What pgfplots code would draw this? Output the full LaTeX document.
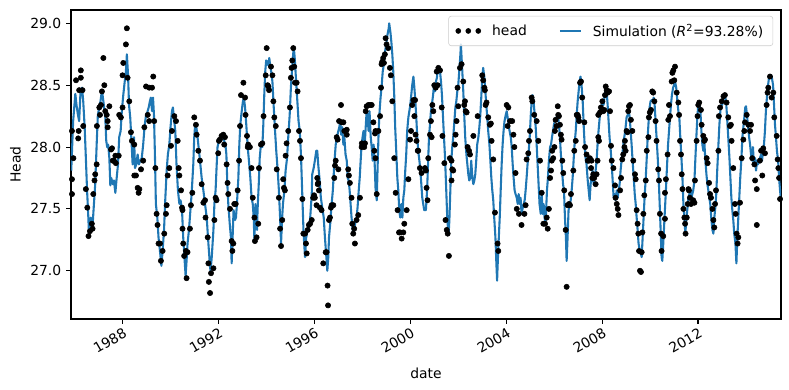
\documentclass[border=0pt]{standalone}
\usepackage{fontspec}
\setmainfont{DejaVu Sans}
\usepackage{pgfplots}
\pgfplotsset{compat=1.18}
\definecolor{mplblue}{HTML}{1F77B4}
\begin{document}
\begin{tikzpicture}
\useasboundingbox (-51.12pt,-51.12pt) rectangle (516.96pt,229.68pt);
\begin{axis}[
  scale only axis, width=511.2pt, height=222.48pt,
  at={(0,0)}, anchor=south west,
  xmin=1985.85, xmax=2015.46, ymin=26.61, ymax=29.108,
  xtick={1988,1992,1996,2000,2004,2008,2012},
  xticklabels={1988,1992,1996,2000,2004,2008,2012},
  ytick={27,27.5,28,28.5,29},
  yticklabel style={/pgf/number format/.cd, fixed, fixed zerofill, precision=1},
  /pgf/number format/assume math mode=true,
  tick align=outside, major tick length=3.5pt,
  xtick pos=lower, ytick pos=left,
  xticklabel style={rotate=30, anchor=north east, inner sep=1pt, yshift=-1pt},
  axis line style={line width=0.8pt}, tick style={line width=0.8pt, black},
  xlabel={date}, ylabel={Head},
  xlabel style={yshift=-5pt},
  legend style={at={(0.989,0.981)}, anchor=north east, legend columns=2,
    draw=black!20, rounded corners=2pt, fill=white, fill opacity=0.8, text opacity=1,
    inner ysep=3.5pt, inner xsep=5pt,
    /tikz/every odd column/.append style={column sep=6pt},
    /tikz/every even column/.append style={column sep=21pt}},
  legend cell align=left,
]
\addplot[only marks, mark=*, mark size=1.9pt, black,
  legend image code/.code={\fill[black, fill opacity=1] (0pt,0pt) circle (1.8pt); \fill[black, fill opacity=1] (7.2pt,0pt) circle (1.8pt); \fill[black, fill opacity=1] (14.4pt,0pt) circle (1.8pt);}]
coordinates {
(1985.89,28.13) (1985.95,27.91) (1985.89,27.74) (1985.89,27.62) (1986.06,28.54) (1986.17,28.13) (1986.15,28.07) (1986.26,28.62) (1986.26,28.56) (1986.19,28.46) (1986.33,28.46) (1986.36,28.17) (1986.47,27.66) (1986.53,27.51) (1986.58,27.28) (1986.64,27.32) (1986.72,27.38) (1986.75,27.34) (1986.78,27.62) (1986.83,27.73) (1986.86,27.78) (1986.92,27.86) (1986.93,28.17) (1987.03,28.32) (1987.06,28.26) (1987.10,28.34) (1987.14,28.45) (1987.20,28.72) (1987.24,28.50) (1987.28,28.29) (1987.34,28.26) (1987.38,28.21) (1987.38,28.16) (1987.45,28.33) (1987.52,27.98) (1987.56,27.99) (1987.59,27.89) (1987.64,27.89) (1987.72,27.87) (1987.70,27.93) (1987.84,27.93) (1987.86,28.26) (1987.93,28.24) (1988.00,28.32) (1988.00,28.58) (1988.03,28.68) (1988.14,28.83) (1988.18,28.96) (1988.21,28.56) (1988.28,28.37) (1988.35,28.12) (1988.39,28.05) (1988.49,28.02) (1988.49,27.77) (1988.56,27.77) (1988.63,27.67) (1988.67,27.63) (1988.70,27.66) (1988.77,27.82) (1988.86,27.89) (1988.91,28.16) (1988.98,28.49) (1989.05,28.26) (1989.11,28.21) (1989.11,28.48) (1989.23,28.48) (1989.28,28.57) (1989.32,28.21) (1989.37,27.83) (1989.42,27.46) (1989.46,27.37) (1989.50,27.22) (1989.56,27.22) (1989.60,27.08) (1989.67,27.16) (1989.74,27.30) (1989.81,27.46) (1989.84,27.53) (1989.88,27.77) (1989.95,27.83) (1990.02,28.01) (1990.06,28.13) (1990.16,28.25) (1990.23,28.21) (1990.30,28.05) (1990.34,27.83) (1990.37,27.77) (1990.44,27.65) (1990.48,27.51) (1990.50,27.49) (1990.50,27.34) (1990.53,27.22) (1990.57,27.12)
(1990.64,27.16) (1990.67,26.94) (1990.71,27.15) (1990.81,27.34) (1990.85,27.53) (1990.91,27.63) (1990.99,28.24) (1991.06,28.18) (1991.09,28.10) (1991.16,27.97) (1991.23,27.89) (1991.30,27.70) (1991.37,27.55) (1991.44,27.57) (1991.46,27.43) (1991.55,27.27) (1991.58,27.06) (1991.60,26.91) (1991.65,26.82) (1991.69,26.98) (1991.79,27.02) (1991.83,27.41) (1991.88,27.59) (1991.92,27.57) (1991.99,27.95) (1992.02,28.05) (1992.06,28.06) (1992.13,28.09) (1992.20,28.10) (1992.24,28.02) (1992.27,28.08) (1992.34,27.86) (1992.38,27.71) (1992.41,27.62) (1992.48,27.50) (1992.55,27.24) (1992.58,27.16) (1992.62,27.22) (1992.66,27.54) (1992.72,27.54) (1992.80,27.65) (1992.86,27.89) (1992.90,28.17) (1992.94,28.42) (1993.04,28.52) (1993.11,28.40) (1993.13,28.26) (1993.19,28.09) (1993.22,28.00) (1993.24,28.02) (1993.31,28.00) (1993.38,27.83) (1993.43,27.59) (1993.50,27.43) (1993.52,27.24) (1993.59,27.27) (1993.66,27.38) (1993.69,27.83) (1993.77,28.02) (1993.83,28.03) (1993.88,28.25) (1993.97,28.58) (1994.01,28.80) (1994.05,28.50) (1994.08,28.49) (1994.11,28.46) (1994.19,28.65) (1994.25,28.58) (1994.29,28.37) (1994.33,28.24) (1994.39,28.17) (1994.43,27.82) (1994.52,27.59) (1994.57,27.34) (1994.61,27.20) (1994.66,27.41) (1994.70,27.74) (1994.73,27.67) (1994.77,27.65) (1994.80,27.93) (1994.84,28.03) (1994.91,28.13) (1994.98,28.32) (1995.02,28.56) (1995.05,28.64) (1995.08,28.70) (1995.12,28.80) (1995.16,28.65) (1995.19,28.52) (1995.26,28.52) (1995.30,28.45) (1995.36,28.13) (1995.40,28.05) (1995.44,27.91) (1995.50,27.58) (1995.54,27.30)
(1995.61,27.30) (1995.65,27.22) (1995.68,27.14) (1995.72,27.33) (1995.77,27.37) (1995.82,27.38) (1995.89,27.41) (1995.95,27.59) (1995.99,27.61) (1996.02,27.59) (1996.09,27.53) (1996.12,27.75) (1996.14,27.70) (1996.16,27.71) (1996.19,27.65) (1996.23,27.51) (1996.30,27.49) (1996.37,27.06) (1996.47,27.15) (1996.51,27.15) (1996.55,26.88) (1996.57,26.72) (1996.61,27.41) (1996.65,27.43) (1996.69,27.51) (1996.72,27.53) (1996.79,27.53) (1996.83,27.75) (1996.86,27.85) (1996.89,27.89) (1997.00,27.82) (1996.93,28.08) (1996.97,28.06) (1997.03,28.21) (1997.11,28.34) (1997.14,28.20) (1997.21,28.20) (1997.25,28.13) (1997.35,28.14) (1997.35,28.10) (1997.41,27.82) (1997.44,27.77) (1997.48,27.71) (1997.55,27.59) (1997.58,27.38) (1997.62,27.30) (1997.66,27.34) (1997.69,27.22) (1997.76,27.41) (1997.83,27.45) (1997.90,27.59) (1997.97,28.00) (1997.98,28.03) (1998.08,28.00) (1998.11,28.03) (1998.14,28.29) (1998.18,28.33) (1998.25,28.34) (1998.32,28.34) (1998.39,28.34) (1998.46,28.20) (1998.53,28.11) (1998.55,28.13) (1998.50,27.97) (1998.55,27.91) (1998.60,27.62) (1998.67,28.13) (1998.74,28.25) (1998.78,28.48) (1998.80,28.67) (1998.83,28.69) (1998.87,28.72) (1998.90,28.68) (1998.94,28.75) (1998.97,28.88) (1999.01,28.83) (1999.08,28.80) (1999.15,28.64) (1999.19,28.58) (1999.25,28.37) (1999.33,27.91) (1999.39,27.63) (1999.47,27.49) (1999.53,27.31) (1999.57,27.31) (1999.64,27.26) (1999.71,27.31) (1999.75,27.38) (1999.85,27.49) (1999.92,27.74) (1999.99,28.06) (2000.03,28.13) (2000.08,28.34) (2000.13,28.38) (2000.17,28.25) (2000.20,28.38) (2000.22,28.10) (2000.26,28.05) (2000.31,27.97) (2000.33,27.97) (2000.40,27.83) (2000.47,27.79)
(2000.61,27.83) (2000.65,27.81) (2000.68,27.67) (2000.72,27.57) (2000.75,27.91) (2000.82,28.10) (2000.86,28.21) (2000.89,28.08) (2000.92,28.34) (2000.96,28.29) (2001.00,28.50) (2001.06,28.48) (2001.10,28.61) (2001.14,28.50) (2001.17,28.64) (2001.24,28.62) (2001.31,28.32) (2001.34,28.09) (2001.42,27.87) (2001.47,27.41) (2001.52,27.33) (2001.56,27.30) (2001.61,27.12) (2001.65,27.91) (2001.72,27.89) (2001.75,27.82) (2001.72,27.73) (2001.79,27.81) (2001.86,28.02) (2001.89,28.10) (2001.93,28.21) (2001.97,28.48) (2002.00,28.33) (2002.07,28.64) (2002.14,28.67) (2002.21,28.53) (2002.25,28.34) (2002.28,28.37) (2002.31,28.29) (2002.35,28.28) (2002.39,28.00) (2002.45,27.97) (2002.49,27.94) (2002.63,28.09) (2002.81,28.25) (2003.00,28.58) (2003.04,28.54) (2003.09,28.48) (2003.11,28.46) (2003.14,28.34) (2003.18,28.36) (2003.25,28.24) (2003.32,28.18) (2003.36,28.19) (2003.39,28.05) (2003.46,27.90) (2003.53,27.47) (2003.64,27.22) (2003.67,27.16) (2004.02,28.34) (2004.09,28.32) (2004.06,28.17) (2004.16,28.21) (2004.25,28.21) (2004.30,28.10) (2004.34,28.00) (2004.39,27.79) (2004.44,27.50) (2004.53,27.46) (2004.64,27.37) (2004.76,27.46) (2004.81,27.53) (2004.85,27.90) (2004.92,27.95) (2004.95,28.05) (2004.99,28.13) (2005.06,28.40) (2005.09,28.37) (2005.17,28.26) (2005.27,28.21) (2005.34,28.05) (2005.41,27.89) (2005.48,27.63) (2005.55,27.38)
(2005.62,27.38) (2005.69,27.43) (2005.73,27.34) (2005.78,27.50) (2005.83,27.75) (2005.87,27.81) (2005.90,27.89) (2005.92,27.97) (2005.96,27.91) (2006.01,28.00) (2006.03,28.13) (2006.06,28.22) (2006.10,28.17) (2006.15,28.33) (2006.17,28.26) (2006.20,28.25) (2006.24,28.18) (2006.28,28.10) (2006.31,28.06) (2006.34,27.89) (2006.38,27.79) (2006.42,27.65) (2006.48,27.33) (2006.52,26.87) (2006.56,27.53) (2006.62,27.54) (2006.66,27.53) (2006.70,27.62) (2006.80,27.81) (2006.84,27.97) (2006.90,28.05) (2006.94,28.26) (2006.98,28.26) (2007.01,28.24) (2007.04,28.21) (2007.08,28.52) (2007.12,28.53) (2007.17,28.40) (2007.26,28.20) (2007.29,28.00) (2007.35,27.94) (2007.40,27.89) (2007.45,27.89) (2007.49,27.91) (2007.54,27.83) (2007.56,27.89) (2007.59,27.75) (2007.63,27.78) (2007.67,27.75) (2007.73,27.70) (2007.77,27.78) (2007.81,27.89) (2007.84,28.08) (2007.87,28.05) (2007.84,28.26) (2007.91,28.28) (2007.95,28.32) (2008.01,28.37) (2008.05,28.29) (2008.09,28.30) (2008.12,28.42) (2008.15,28.49) (2008.19,28.46) (2008.23,28.44) (2008.29,28.45) (2008.33,28.29) (2008.37,28.01) (2008.40,27.89) (2008.47,27.83) (2008.54,27.69) (2008.56,27.59) (2008.61,27.54) (2008.65,27.50) (2008.68,27.45) (2008.75,27.65) (2008.79,27.75) (2008.84,27.90) (2008.88,27.94) (2008.93,28.00) (2008.95,28.05) (2008.98,27.97) (2009.02,28.13) (2009.06,28.12) (2009.09,28.29) (2009.12,28.33) (2009.16,28.34) (2009.20,28.22) (2009.26,28.13) (2009.30,27.89) (2009.37,27.78) (2009.40,27.74) (2009.44,27.49) (2009.48,27.38) (2009.51,27.30) (2009.54,27.16) (2009.58,27.00) (2009.62,26.99) (2009.65,27.15) (2009.68,27.31) (2009.72,27.46) (2009.76,27.61) (2009.82,27.73) (2009.86,27.97) (2009.93,28.08) (2009.95,28.24) (2009.99,28.28) (2010.04,28.30) (2010.09,28.45) (2010.13,28.44) (2010.18,28.37) (2010.23,28.21) (2010.27,28.05) (2010.34,27.82) (2010.37,27.73) (2010.41,27.46) (2010.46,27.30) (2010.48,27.16) (2010.55,27.28)
(2010.62,27.63) (2010.62,27.42) (2010.66,27.74) (2010.73,27.94) (2010.76,28.22) (2010.83,28.25) (2010.79,28.34) (2010.90,28.53) (2010.93,28.60) (2010.97,28.62) (2011.04,28.65) (2011.01,28.54) (2011.11,28.44) (2011.18,28.36) (2011.21,28.26) (2011.25,28.05) (2011.29,27.94) (2011.32,27.78) (2011.35,27.66) (2011.39,27.50) (2011.43,27.43) (2011.46,27.38) (2011.48,27.30) (2011.53,27.43) (2011.57,27.54) (2011.60,27.66) (2011.62,27.65) (2011.66,27.59) (2011.71,27.54) (2011.80,27.57) (2011.85,27.55) (2011.87,27.73) (2011.94,28.05) (2011.98,28.25) (2012.01,28.34) (2012.05,28.36) (2012.12,28.30) (2012.15,28.18) (2012.22,28.09) (2012.26,28.05) (2012.29,28.06) (2012.36,27.91) (2012.40,27.87) (2012.46,27.71) (2012.50,27.62) (2012.54,27.59) (2012.60,27.50) (2012.64,27.41) (2012.68,27.35) (2012.71,27.54) (2012.75,27.65) (2012.85,27.97) (2012.87,28.25) (2012.92,28.32) (2012.99,28.37) (2013.06,28.41) (2013.12,28.42) (2013.19,28.36) (2013.26,28.24) (2013.33,28.17) (2013.37,28.18) (2013.40,28.05) (2013.47,27.83) (2013.54,27.54) (2013.57,27.46) (2013.61,27.30) (2013.65,27.22) (2013.68,27.27) (2013.75,27.55) (2013.82,27.91) (2013.89,28.06) (2013.93,28.13) (2013.96,28.20) (2014.03,28.26) (2014.10,28.18) (2014.17,28.13) (2014.21,28.18) (2014.26,27.91) (2014.35,27.86) (2014.38,27.73) (2014.45,27.66) (2014.45,27.37) (2014.58,27.89) (2014.63,27.97) (2014.68,27.77) (2014.72,27.99) (2014.79,27.95) (2014.86,28.34) (2014.90,28.44) (2014.93,28.48) (2015.00,28.57) (2015.07,28.40) (2015.14,28.44) (2015.18,28.24) (2015.28,28.09) (2015.32,27.90) (2015.35,27.83) (2015.38,27.75) (2015.42,27.58)
};
\addlegendentry{head}
\addplot[mplblue, line width=1.5pt, line join=round,
  legend image code/.code={\draw[mplblue, line width=1.5pt] (0pt,0pt) -- (15pt,0pt);}] coordinates {
(1985.86,27.81) (1985.94,28.21) (1986.03,28.43) (1986.08,28.34) (1986.14,28.26) (1986.19,28.21) (1986.25,28.46) (1986.31,28.48) (1986.36,28.37) (1986.42,28.16) (1986.47,27.91) (1986.52,27.65) (1986.56,27.49) (1986.60,27.30) (1986.64,27.41) (1986.68,27.43) (1986.74,27.33) (1986.79,27.49) (1986.86,27.70) (1986.92,28.02) (1986.97,28.26) (1987.03,28.32) (1987.08,28.37) (1987.14,28.46) (1987.18,28.40) (1987.22,28.34) (1987.28,28.24) (1987.32,28.05) (1987.36,28.00) (1987.40,28.02) (1987.45,27.91) (1987.49,27.69) (1987.53,27.75) (1987.59,27.70) (1987.64,27.73) (1987.70,27.63) (1987.75,27.74) (1987.81,27.86) (1987.86,28.08) (1987.92,28.13) (1987.97,28.29) (1988.03,28.42) (1988.09,28.53) (1988.14,28.61) (1988.18,28.75) (1988.23,28.58) (1988.27,28.34) (1988.32,28.24) (1988.38,28.02) (1988.42,27.86) (1988.48,28.08) (1988.52,27.83) (1988.57,27.86) (1988.63,27.94) (1988.68,27.86) (1988.74,27.89) (1988.80,27.91) (1988.86,28.02) (1988.92,28.17) (1988.98,28.26) (1989.03,28.28) (1989.09,28.32) (1989.14,28.37) (1989.18,28.40) (1989.23,28.29) (1989.27,28.40) (1989.31,28.26) (1989.35,27.94) (1989.39,27.54) (1989.45,27.43) (1989.50,27.27) (1989.56,27.16) (1989.62,27.04) (1989.67,27.16) (1989.73,27.33) (1989.78,27.57) (1989.84,27.81) (1989.89,27.94) (1989.95,28.02) (1990.00,28.16) (1990.06,28.29) (1990.10,28.32) (1990.14,28.24) (1990.20,28.13) (1990.25,27.86) (1990.31,27.65) (1990.37,27.54) (1990.42,27.57) (1990.48,27.49) (1990.53,27.27) (1990.59,27.08) (1990.63,26.96) (1990.67,27.08)
(1990.71,27.22) (1990.77,27.33) (1990.83,27.49) (1990.88,27.62) (1990.95,27.86) (1990.99,28.08) (1991.02,28.16) (1991.06,28.18) (1991.10,28.13) (1991.16,28.02) (1991.23,27.89) (1991.30,27.75) (1991.37,27.65) (1991.44,27.54) (1991.51,27.43) (1991.58,27.22) (1991.65,27.03) (1991.67,27.00) (1991.72,27.11) (1991.79,27.33) (1991.83,27.54) (1991.88,27.65) (1991.92,27.83) (1991.96,28.00) (1992.02,28.05) (1992.08,28.06) (1992.13,28.09) (1992.19,28.08) (1992.24,28.05) (1992.29,28.02) (1992.33,27.94) (1992.37,27.70) (1992.41,27.54) (1992.47,27.38) (1992.52,27.27) (1992.55,27.06) (1992.59,27.27) (1992.63,27.49) (1992.69,27.41) (1992.73,27.43) (1992.77,27.54) (1992.83,27.75) (1992.87,28.02) (1992.91,28.18) (1992.97,28.29) (1993.02,28.37) (1993.06,28.40) (1993.11,28.32) (1993.16,28.18) (1993.22,28.00) (1993.27,27.89) (1993.33,27.75) (1993.38,27.59) (1993.43,27.54) (1993.47,27.43) (1993.50,27.24) (1993.54,27.54) (1993.58,27.41) (1993.61,27.33) (1993.63,27.49) (1993.68,27.70) (1993.72,27.91) (1993.77,28.02) (1993.83,28.00) (1993.87,28.18) (1993.91,28.42) (1993.95,28.61) (1993.99,28.70) (1994.04,28.69) (1994.08,28.66) (1994.12,28.72) (1994.16,28.65) (1994.20,28.61) (1994.25,28.53) (1994.30,28.34) (1994.36,28.13) (1994.41,27.97) (1994.47,27.81) (1994.52,27.65) (1994.57,27.43) (1994.61,27.22) (1994.65,27.41) (1994.69,27.54) (1994.75,27.65) (1994.80,27.81) (1994.86,27.91) (1994.91,28.08) (1994.97,28.26) (1995.02,28.48) (1995.08,28.66) (1995.14,28.81) (1995.18,28.72) (1995.23,28.56) (1995.29,28.37) (1995.34,28.21) (1995.39,28.13) (1995.44,27.94) (1995.50,27.59) (1995.55,27.30) (1995.61,27.11) (1995.66,27.27)
(1995.72,27.33) (1995.77,27.38) (1995.82,27.41) (1995.89,27.62) (1995.91,27.78) (1995.97,27.83) (1996.02,27.89) (1996.08,27.97) (1996.12,27.97) (1996.16,27.86) (1996.22,27.73) (1996.27,27.59) (1996.33,27.51) (1996.39,27.43) (1996.44,27.27) (1996.50,27.11) (1996.54,27.00) (1996.58,27.11) (1996.61,27.27) (1996.66,27.38) (1996.72,27.54) (1996.77,27.65) (1996.83,27.86) (1996.89,28.02) (1996.94,28.08) (1997.00,28.13) (1997.04,28.16) (1997.08,28.21) (1997.12,28.10) (1997.16,28.16) (1997.21,28.02) (1997.25,28.08) (1997.30,27.94) (1997.35,27.89) (1997.39,27.75) (1997.43,27.73) (1997.47,27.65) (1997.51,27.54) (1997.55,27.43) (1997.60,27.33) (1997.64,27.30) (1997.68,27.35) (1997.72,27.41) (1997.76,27.43) (1997.80,27.51) (1997.85,27.65) (1997.89,27.75) (1997.93,27.89) (1997.97,28.02) (1998.01,28.08) (1998.05,28.13) (1998.10,28.02) (1998.14,28.16) (1998.18,28.29) (1998.22,28.24) (1998.26,28.13) (1998.30,28.29) (1998.35,28.08) (1998.39,28.00) (1998.43,27.89) (1998.47,28.02) (1998.51,27.89) (1998.55,27.67) (1998.60,27.57) (1998.64,27.86) (1998.68,28.13) (1998.72,28.29) (1998.76,28.40) (1998.80,28.48) (1998.85,28.61) (1998.89,28.66) (1998.93,28.75) (1998.97,28.80) (1999.01,28.85) (1999.05,28.91) (1999.10,28.96) (1999.12,29.00) (1999.17,28.93) (1999.21,28.85) (1999.25,28.75) (1999.29,28.61) (1999.33,28.42) (1999.37,28.16) (1999.42,27.94) (1999.46,27.75) (1999.50,27.65) (1999.54,27.49) (1999.58,27.43) (1999.63,27.54) (1999.67,27.43) (1999.71,27.59) (1999.75,27.65) (1999.79,27.81) (1999.83,27.94) (1999.87,28.13) (1999.92,28.24) (1999.96,28.29) (2000.00,28.34) (2000.04,28.42) (2000.08,28.50) (2000.13,28.57) (2000.17,28.48) (2000.21,28.37) (2000.25,28.24) (2000.29,28.08) (2000.33,27.97) (2000.38,27.89) (2000.42,27.81) (2000.46,27.70) (2000.50,27.59) (2000.54,27.54) (2000.58,27.49)
(2000.65,27.49) (2000.70,27.65) (2000.74,27.86) (2000.78,28.08) (2000.82,28.18) (2000.86,28.29) (2000.90,28.34) (2000.95,28.42) (2000.99,28.50) (2001.03,28.45) (2001.07,28.53) (2001.11,28.56) (2001.15,28.64) (2001.20,28.65) (2001.24,28.61) (2001.28,28.53) (2001.32,28.42) (2001.36,28.26) (2001.40,28.10) (2001.45,27.91) (2001.49,27.70) (2001.52,27.54) (2001.54,27.43) (2001.57,27.35) (2001.60,27.30) (2001.63,27.41) (2001.67,27.65) (2001.71,27.89) (2001.75,28.00) (2001.79,28.08) (2001.84,28.21) (2001.88,28.32) (2001.92,28.37) (2001.96,28.45) (2002.00,28.50) (2002.04,28.61) (2002.09,28.75) (2002.11,28.83) (2002.14,28.72) (2002.17,28.61) (2002.21,28.45) (2002.25,28.26) (2002.29,28.08) (2002.34,27.94) (2002.38,27.86) (2002.42,27.78) (2002.46,27.73) (2002.50,27.75) (2002.54,27.89) (2002.59,27.75) (2002.63,27.70) (2002.67,27.73) (2002.71,27.78) (2002.75,27.89) (2002.79,28.02) (2002.84,28.08) (2002.88,28.16) (2002.92,28.26) (2002.96,28.40) (2003.00,28.56) (2003.04,28.64) (2003.09,28.56) (2003.13,28.45) (2003.17,28.34) (2003.21,28.24) (2003.25,28.13) (2003.30,28.02) (2003.34,27.89) (2003.38,27.75) (2003.42,27.65) (2003.46,27.57) (2003.50,27.43) (2003.55,27.27) (2003.59,27.06) (2003.62,26.92) (2003.64,27.03) (2003.68,27.22) (2003.73,27.43) (2003.77,27.65) (2003.81,27.86) (2003.85,28.02) (2003.89,28.13) (2003.93,28.21) (2003.98,28.26) (2004.02,28.29) (2004.06,28.24) (2004.10,28.18) (2004.14,28.13) (2004.19,28.08) (2004.23,28.00) (2004.27,27.86) (2004.31,27.75) (2004.35,27.65) (2004.39,27.62) (2004.44,27.59) (2004.48,27.54) (2004.52,27.62) (2004.56,27.54) (2004.60,27.59) (2004.64,27.46) (2004.69,27.51) (2004.73,27.54) (2004.77,27.57) (2004.81,27.65) (2004.85,27.75) (2004.89,27.86) (2004.94,27.97) (2004.98,28.08) (2005.02,28.24) (2005.06,28.37) (2005.10,28.42) (2005.14,28.37) (2005.19,28.26) (2005.23,28.16) (2005.27,28.02) (2005.31,27.86) (2005.35,27.70) (2005.39,27.54) (2005.44,27.46) (2005.48,27.62) (2005.52,27.46) (2005.56,27.54) (2005.60,27.43) (2005.64,27.38)
(2005.70,27.65) (2005.74,27.75) (2005.78,27.89) (2005.83,28.00) (2005.87,28.02) (2005.91,28.08) (2005.95,28.13) (2005.99,28.18) (2006.03,28.21) (2006.08,28.24) (2006.12,28.24) (2006.16,28.26) (2006.20,28.18) (2006.24,28.08) (2006.28,27.94) (2006.33,27.81) (2006.37,27.70) (2006.41,27.65) (2006.45,27.43) (2006.49,27.27) (2006.52,27.08) (2006.55,27.22) (2006.58,27.38) (2006.60,27.49) (2006.65,27.54) (2006.69,27.57) (2006.73,27.65) (2006.77,27.75) (2006.81,27.89) (2006.85,28.02) (2006.90,28.13) (2006.94,28.26) (2006.98,28.37) (2007.02,28.45) (2007.06,28.53) (2007.10,28.57) (2007.15,28.48) (2007.19,28.37) (2007.23,28.18) (2007.27,28.02) (2007.31,27.91) (2007.35,27.86) (2007.40,27.73) (2007.44,27.65) (2007.48,27.57) (2007.52,27.70) (2007.56,27.75) (2007.60,27.81) (2007.65,27.70) (2007.69,27.75) (2007.73,27.81) (2007.77,27.89) (2007.81,28.02) (2007.85,28.13) (2007.90,28.24) (2007.94,28.29) (2007.98,28.34) (2008.02,28.37) (2008.06,28.34) (2008.11,28.42) (2008.15,28.48) (2008.19,28.45) (2008.23,28.34) (2008.27,28.21) (2008.31,28.08) (2008.36,27.97) (2008.40,27.86) (2008.44,27.73) (2008.48,27.59) (2008.52,27.62) (2008.56,27.57) (2008.61,27.65) (2008.65,27.59) (2008.69,27.65) (2008.73,27.70) (2008.77,27.81) (2008.81,27.89) (2008.86,27.97) (2008.90,28.05) (2008.94,28.10) (2008.98,28.16) (2009.02,28.24) (2009.07,28.26) (2009.11,28.29) (2009.15,28.24) (2009.19,28.13) (2009.23,28.02) (2009.27,27.89) (2009.32,27.75) (2009.36,27.62) (2009.40,27.54) (2009.44,27.43) (2009.48,27.33) (2009.52,27.22) (2009.57,27.16) (2009.61,27.14) (2009.65,27.11) (2009.69,27.27) (2009.73,27.43) (2009.77,27.59) (2009.82,27.75) (2009.86,27.91) (2009.90,28.08) (2009.94,28.21) (2009.98,28.32) (2010.02,28.37) (2010.07,28.38) (2010.11,28.37) (2010.15,28.40) (2010.19,28.34) (2010.23,28.21) (2010.27,28.08) (2010.32,27.91) (2010.36,27.75) (2010.40,27.54) (2010.44,27.33) (2010.48,27.11) (2010.51,27.08) (2010.55,27.22) (2010.59,27.38)
(2010.66,27.65) (2010.71,27.86) (2010.75,28.02) (2010.79,28.13) (2010.83,28.24) (2010.87,28.34) (2010.91,28.42) (2010.96,28.48) (2011.00,28.50) (2011.04,28.53) (2011.09,28.48) (2011.14,28.37) (2011.18,28.29) (2011.22,28.24) (2011.26,28.08) (2011.30,27.94) (2011.35,27.75) (2011.39,27.54) (2011.43,27.43) (2011.47,27.30) (2011.51,27.41) (2011.55,27.49) (2011.60,27.59) (2011.64,27.62) (2011.68,27.65) (2011.72,27.57) (2011.76,27.62) (2011.80,27.65) (2011.85,27.73) (2011.89,27.91) (2011.93,28.08) (2011.97,28.24) (2012.01,28.34) (2012.05,28.36) (2012.10,28.29) (2012.14,28.13) (2012.18,28.02) (2012.22,27.97) (2012.26,28.05) (2012.30,27.91) (2012.35,27.78) (2012.39,27.70) (2012.43,27.65) (2012.47,27.59) (2012.51,27.54) (2012.55,27.43) (2012.60,27.33) (2012.64,27.30) (2012.68,27.43) (2012.72,27.51) (2012.76,27.62) (2012.80,27.81) (2012.85,28.02) (2012.89,28.18) (2012.93,28.29) (2012.97,28.34) (2013.01,28.34) (2013.06,28.40) (2013.10,28.42) (2013.14,28.40) (2013.18,28.34) (2013.22,28.21) (2013.26,28.08) (2013.31,27.91) (2013.35,27.75) (2013.39,27.59) (2013.43,27.49) (2013.47,27.41) (2013.51,27.30) (2013.56,27.22) (2013.60,27.06) (2013.64,27.27) (2013.68,27.43) (2013.72,27.59) (2013.76,27.75) (2013.81,27.91) (2013.85,28.08) (2013.89,28.16) (2013.93,28.24) (2013.97,28.32) (2014.00,28.33) (2014.04,28.26) (2014.08,28.18) (2014.13,28.08) (2014.17,28.02) (2014.21,27.94) (2014.25,27.89) (2014.29,28.00) (2014.33,27.86) (2014.38,27.91) (2014.42,27.81) (2014.46,27.89) (2014.50,27.86) (2014.54,27.89) (2014.58,27.91) (2014.63,27.94) (2014.67,27.89) (2014.71,27.97) (2014.75,28.02) (2014.79,28.13) (2014.83,28.29) (2014.88,28.42) (2014.92,28.50) (2014.96,28.56) (2015.00,28.57) (2015.04,28.58) (2015.08,28.56) (2015.13,28.50) (2015.17,28.34) (2015.21,28.18) (2015.25,28.08) (2015.29,27.97) (2015.34,27.89) (2015.38,27.75) (2015.42,27.65) (2015.45,27.59)
};
\addlegendentry{Simulation (\textit{R}\textsuperscript{2}=93.28\%)}
\end{axis}
\end{tikzpicture}
\end{document}
